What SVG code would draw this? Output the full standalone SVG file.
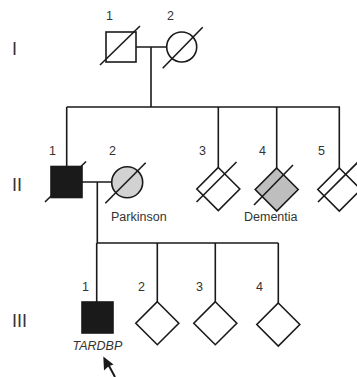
<svg xmlns="http://www.w3.org/2000/svg" width="357" height="377" viewBox="0 0 357 377">
<style>
.ln{stroke:#1a1a1a;stroke-width:1.6;fill:none}
.sh{stroke:#1a1a1a;stroke-width:1.6;fill:#fff}
.aff{fill:#1a1a1a;stroke:#1a1a1a;stroke-width:1.6}
.lbl{font-family:"Liberation Sans",Arial,sans-serif;font-size:12.5px;fill:#333}
.gen{font-family:"Liberation Sans",Arial,sans-serif;font-size:18px;fill:#333}
</style>
<rect width="357" height="377" fill="#fff"/>
<g id="connectors">
<path class="ln" d="M136,47H166.5M151,47V107M66.7,107H340M66.7,107V166M218.3,107V167.5M276.7,107V168M339.3,107V168M82,182H112M97.3,182V243M96.7,243H278.3M96.7,243V302M157.3,243V301.7M215.3,243V301.7M278.3,243V303"/>
</g>
<g id="gen-labels">
<text class="gen" x="12" y="55">I</text>
<text class="gen" x="12" y="191">II</text>
<text class="gen" x="12" y="327">III</text>
</g>
<g id="I-1">
<rect class="sh" x="106" y="32" width="30" height="30"/>
<line class="ln" x1="100" y1="65" x2="140" y2="26"/>
<text class="lbl" x="106" y="20">1</text>
</g>
<g id="I-2">
<circle class="sh" cx="181.7" cy="47" r="15"/>
<line class="ln" x1="162.7" y1="68.3" x2="202.7" y2="27.3"/>
<text class="lbl" x="167" y="20">2</text>
</g>
<g id="II-1">
<rect class="aff" x="51" y="166.5" width="31" height="31"/>
<line class="ln" x1="45" y1="202" x2="86" y2="161.5"/>
<text class="lbl" x="49" y="155">1</text>
</g>
<g id="II-2">
<circle cx="127.2" cy="182.3" r="15.5" fill="#d2d2d2" stroke="#1a1a1a" stroke-width="1.6"/>
<line class="ln" x1="105.3" y1="203.3" x2="145.7" y2="162.7"/>
<text class="lbl" x="109" y="155">2</text>
<text class="lbl" x="111" y="221" font-size="13px">Parkinson</text>
</g>
<g id="II-3">
<polygon class="sh" points="218.3,167.5 239.8,189 218.3,210.5 196.8,189"/>
<line class="ln" x1="196.5" y1="202" x2="236.5" y2="162"/>
<text class="lbl" x="199" y="155">3</text>
</g>
<g id="II-4">
<polygon points="276.7,168 298.2,189.5 276.7,211 255.2,189.5" fill="#bebebe" stroke="#1a1a1a" stroke-width="1.6"/>
<line class="ln" x1="254" y1="205" x2="293" y2="165"/>
<text class="lbl" x="259" y="155">4</text>
<text class="lbl" x="244" y="221" font-size="13px">Dementia</text>
</g>
<g id="II-5">
<polygon class="sh" points="339.3,168 360.8,189.5 339.3,211 317.8,189.5"/>
<line class="ln" x1="318" y1="202" x2="358" y2="162"/>
<text class="lbl" x="318" y="155">5</text>
</g>
<g id="III-1">
<rect class="aff" x="82" y="302" width="31" height="31"/>
<text class="lbl" x="82" y="291">1</text>
<text class="lbl" x="72.5" y="350" font-size="13px" font-style="italic">TARDBP</text>
<polygon points="103.3,356.5 104,370.5 108.6,366.3 113.5,364.5" fill="#1a1a1a"/>
<line x1="108" y1="364" x2="115" y2="377" stroke="#1a1a1a" stroke-width="2"/>
</g>
<g id="III-2">
<polygon class="sh" points="157.3,301.7 178.8,323.2 157.3,344.7 135.8,323.2"/>
<text class="lbl" x="138" y="291">2</text>
</g>
<g id="III-3">
<polygon class="sh" points="215.3,301.7 236.8,323.2 215.3,344.7 193.8,323.2"/>
<text class="lbl" x="196" y="291">3</text>
</g>
<g id="III-4">
<polygon class="sh" points="278.3,303 299.8,324.5 278.3,346 256.8,324.5"/>
<text class="lbl" x="256" y="291">4</text>
</g>
</svg>
